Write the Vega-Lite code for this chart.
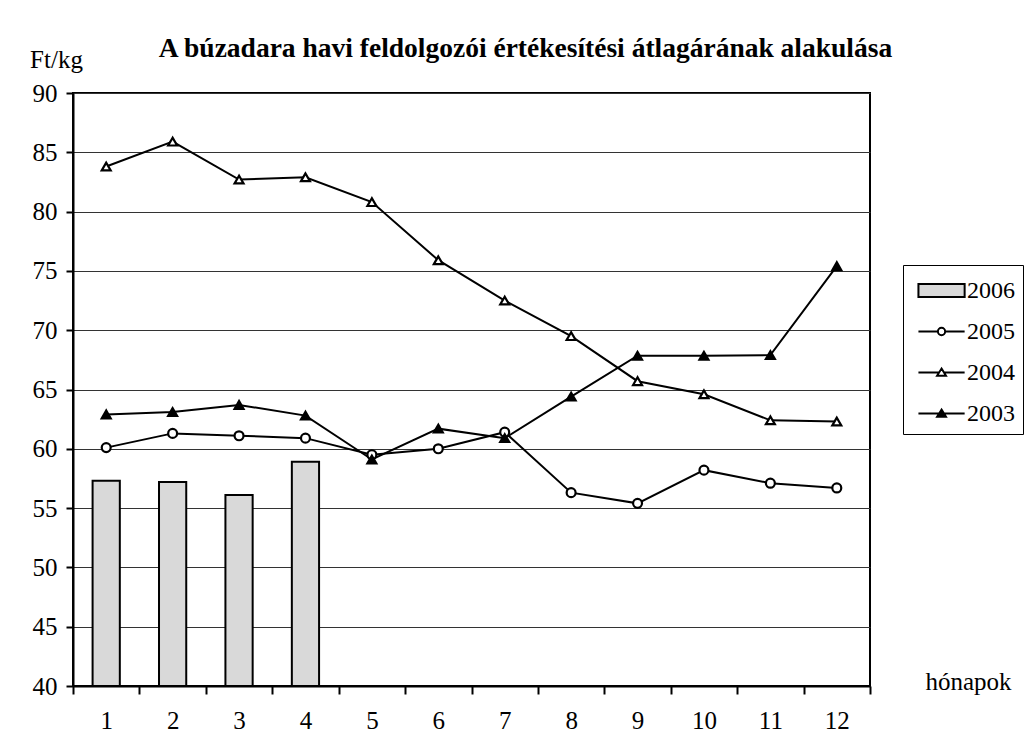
{
  "$schema": "https://vega.github.io/schema/vega-lite/v6.json",
  "width": 797,
  "height": 593,
  "autosize": {"type": "none"},
  "padding": {"left": 73, "top": 93, "right": 154, "bottom": 60},
  "background": "white",
  "title": {
    "text": "A búzadara havi feldolgozói értékesítési átlagárának alakulása",
    "font": "Liberation Serif",
    "fontSize": 27.5,
    "fontWeight": "bold",
    "color": "black",
    "anchor": "middle",
    "frame": "group",
    "dx": 54,
    "baseline": "alphabetic",
    "offset": -37
  },
  "config": {
    "view": {"stroke": "black", "strokeWidth": 2},
    "axis": {
      "labelFont": "Liberation Serif",
      "labelFontSize": 25,
      "labelColor": "black",
      "titleFont": "Liberation Serif",
      "titleFontSize": 25,
      "titleFontWeight": "normal",
      "titleColor": "black",
      "domainColor": "black",
      "domainWidth": 2,
      "tickColor": "black",
      "tickWidth": 2
    },
    "legend": {
      "labelFont": "Liberation Serif",
      "labelFontSize": 24,
      "labelColor": "black",
      "symbolStrokeWidth": 2
    }
  },
  "data": {
    "values": [
      {"month": 1, "series": "2006", "value": 57.3},
      {"month": 2, "series": "2006", "value": 57.2},
      {"month": 3, "series": "2006", "value": 56.1},
      {"month": 4, "series": "2006", "value": 58.9},
      {"month": 1, "series": "2005", "value": 60.1},
      {"month": 2, "series": "2005", "value": 61.3},
      {"month": 3, "series": "2005", "value": 61.1},
      {"month": 4, "series": "2005", "value": 60.9},
      {"month": 5, "series": "2005", "value": 59.5},
      {"month": 6, "series": "2005", "value": 60.0},
      {"month": 7, "series": "2005", "value": 61.4},
      {"month": 8, "series": "2005", "value": 56.3},
      {"month": 9, "series": "2005", "value": 55.4},
      {"month": 10, "series": "2005", "value": 58.2},
      {"month": 11, "series": "2005", "value": 57.1},
      {"month": 12, "series": "2005", "value": 56.7},
      {"month": 1, "series": "2004", "value": 83.8},
      {"month": 2, "series": "2004", "value": 85.9},
      {"month": 3, "series": "2004", "value": 82.7},
      {"month": 4, "series": "2004", "value": 82.9},
      {"month": 5, "series": "2004", "value": 80.8},
      {"month": 6, "series": "2004", "value": 75.9},
      {"month": 7, "series": "2004", "value": 72.5},
      {"month": 8, "series": "2004", "value": 69.5},
      {"month": 9, "series": "2004", "value": 65.7},
      {"month": 10, "series": "2004", "value": 64.6},
      {"month": 11, "series": "2004", "value": 62.4},
      {"month": 12, "series": "2004", "value": 62.3},
      {"month": 1, "series": "2003", "value": 62.9},
      {"month": 2, "series": "2003", "value": 63.1},
      {"month": 3, "series": "2003", "value": 63.7},
      {"month": 4, "series": "2003", "value": 62.8},
      {"month": 5, "series": "2003", "value": 59.1},
      {"month": 6, "series": "2003", "value": 61.7},
      {"month": 7, "series": "2003", "value": 60.9},
      {"month": 8, "series": "2003", "value": 64.4},
      {"month": 9, "series": "2003", "value": 67.85},
      {"month": 10, "series": "2003", "value": 67.85},
      {"month": 11, "series": "2003", "value": 67.9},
      {"month": 12, "series": "2003", "value": 75.4}
    ]
  },
  "encoding": {
    "x": {
      "field": "month",
      "type": "ordinal",
      "scale": {"paddingInner": 0, "paddingOuter": 0},
      "axis": {
        "title": "hónapok",
        "labelAngle": 0,
        "tickBand": "extent",
        "tickSize": 8,
        "labelPadding": 14,
        "titleX": 852,
        "titleY": 3,
        "titleAlign": "left",
        "titleBaseline": "alphabetic",
        "titleAnchor": null
      }
    },
    "y": {
      "field": "value",
      "type": "quantitative",
      "scale": {"domain": [40, 90], "nice": false, "zero": false},
      "axis": {
        "title": "Ft/kg",
        "values": [40, 45, 50, 55, 60, 65, 70, 75, 80, 85, 90],
        "grid": true,
        "gridColor": "#333333",
        "gridWidth": 1,
        "gridOpacity": 1,
        "tickSize": 7,
        "labelPadding": 9,
        "titleAngle": 0,
        "titleX": -17,
        "titleY": -26,
        "titleAlign": "center",
        "titleBaseline": "alphabetic"
      }
    }
  },
  "layer": [
    {
      "transform": [{"filter": "datum.series === '2006'"}],
      "mark": {"type": "bar", "fill": "#d9d9d9", "stroke": "black", "strokeWidth": 2, "width": {"band": 0.41}},
      "encoding": {"y2": {"datum": 40}}
    },
    {
      "transform": [{"filter": "datum.series !== '2006'"}],
      "mark": {"type": "line", "stroke": "black", "strokeWidth": 2},
      "encoding": {"detail": {"field": "series", "type": "nominal"}}
    },
    {
      "transform": [{"filter": "datum.series !== '2006'"}],
      "mark": {"type": "point", "stroke": "black", "strokeWidth": 2.2, "opacity": 1, "size": 80},
      "encoding": {
        "shape": {
          "field": "series",
          "type": "nominal",
          "scale": {"domain": ["2005", "2004", "2003"], "range": ["circle", "triangle-up", "triangle-up"]},
          "legend": null
        },
        "fill": {
          "field": "series",
          "type": "nominal",
          "scale": {"domain": ["2005", "2004", "2003"], "range": ["white", "white", "black"]},
          "legend": null
        }
      }
    },
    {
      "transform": [{"filter": "datum.series === 'none'"}],
      "mark": {"type": "point", "strokeWidth": 2, "size": 1089, "opacity": 1, "filled": true},
      "encoding": {
        "shape": {
          "field": "series",
          "type": "nominal",
          "scale": {
            "domain": ["2006", "2005", "2004", "2003"],
            "range": [
              "M-0.61,-0.39H2.19V0.39H-0.61Z",
              "M-0.61,0H0.57M1.01,0H2.19M0.57,0A0.22,0.22,0,1,1,1.01,0A0.22,0.22,0,1,1,0.57,0Z",
              "M-0.61,0H0.64M0.94,0H2.19M0.79,-0.24L1.06,0.2L0.52,0.2Z",
              "M-0.61,0H2.19M0.79,-0.24L1.06,0.2L0.52,0.2Z"
            ]
          },
          "legend": {
            "title": null,
            "orient": "none",
            "legendX": 830,
            "legendY": 172,
            "symbolSize": 1089,
            "symbolStrokeWidth": 2,
            "symbolOpacity": 1,
            "labelFont": "Liberation Serif",
            "labelFontSize": 24,
            "labelColor": "black",
            "labelOffset": 21,
            "rowPadding": 11,
            "padding": 8,
            "strokeColor": "black"
          }
        },
        "fill": {
          "field": "series",
          "type": "nominal",
          "scale": {
            "domain": ["2006", "2005", "2004", "2003"],
            "range": ["#d9d9d9", "white", "white", "black"]
          },
          "legend": {
            "title": null,
            "orient": "none",
            "legendX": 830,
            "legendY": 172,
            "symbolSize": 1089,
            "symbolStrokeWidth": 2,
            "symbolOpacity": 1,
            "labelFont": "Liberation Serif",
            "labelFontSize": 24,
            "labelColor": "black",
            "labelOffset": 21,
            "rowPadding": 11,
            "padding": 8,
            "strokeColor": "black"
          }
        },
        "stroke": {
          "field": "series",
          "type": "nominal",
          "scale": {
            "domain": ["2006", "2005", "2004", "2003"],
            "range": ["black", "black", "black", "black"]
          },
          "legend": {
            "title": null,
            "orient": "none",
            "legendX": 830,
            "legendY": 172,
            "symbolSize": 1089,
            "symbolStrokeWidth": 2,
            "symbolOpacity": 1,
            "labelFont": "Liberation Serif",
            "labelFontSize": 24,
            "labelColor": "black",
            "labelOffset": 21,
            "rowPadding": 11,
            "padding": 8,
            "strokeColor": "black"
          }
        }
      }
    }
  ],
  "resolve": {"scale": {"shape": "independent", "fill": "independent", "stroke": "independent"}}
}
